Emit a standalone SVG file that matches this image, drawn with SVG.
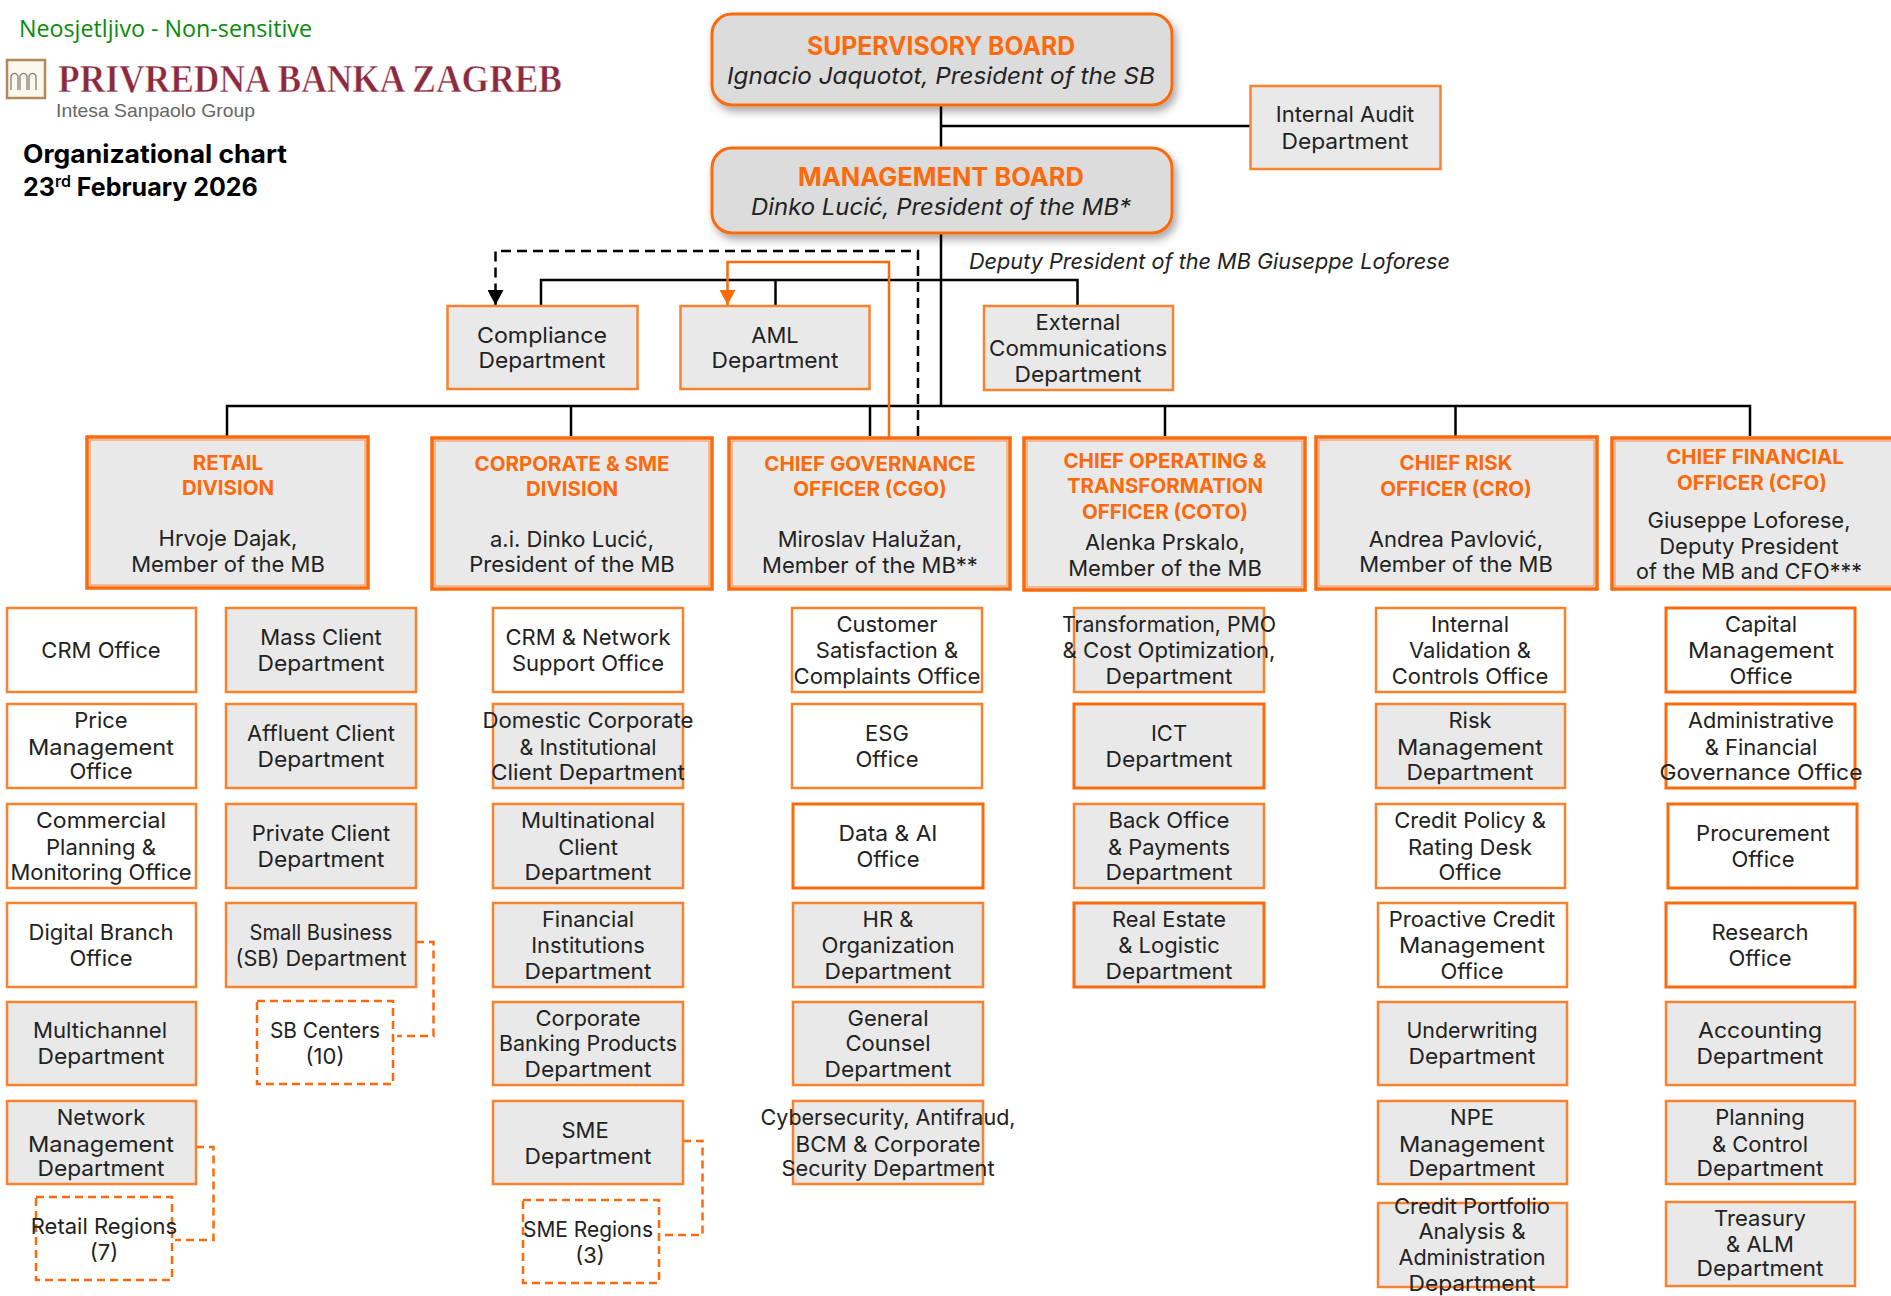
<svg xmlns="http://www.w3.org/2000/svg" width="1891" height="1296" viewBox="0 0 1891 1296">
<defs>
<style>
text{font-family:"Inter","Liberation Sans",sans-serif;font-size:22px;fill:#222;text-anchor:middle}
.box{stroke:#f9822f;stroke-width:2.5;fill:#e9e9e9}
.w{fill:#fff}
.s{stroke:#fb6a0c;stroke-width:3}
.t{fill:#fb6a0c;font-weight:700;font-size:20.5px}
.div{stroke:#fb6a0c;stroke-width:3.5;fill:#e9e9e9}
.inner{stroke:#fb8a45;stroke-width:1;fill:none}
.board{stroke:#fb6a0c;stroke-width:3;fill:#dcdcdc}
.dash{stroke:#fb6a0c;stroke-width:2.5;fill:none;stroke-dasharray:8 5}
.ln{stroke:#000;stroke-width:2.5;fill:none}
.bt{fill:#fb6a0c;font-weight:700;font-size:25px}
.it{font-style:italic;font-size:23px}
.l{text-anchor:start}
</style>
<filter id="sh" x="-5%" y="-10%" width="112%" height="130%"><feDropShadow dx="3" dy="5" stdDeviation="4" flood-color="#000" flood-opacity="0.35"/></filter>
<marker id="ab" markerUnits="userSpaceOnUse" markerWidth="16" markerHeight="16" refX="15" refY="8" orient="auto"><path d="M0 0L15 8L0 16Z" fill="#000"/></marker>
<marker id="ao" markerUnits="userSpaceOnUse" markerWidth="16" markerHeight="16" refX="15" refY="8" orient="auto"><path d="M0 0L15 8L0 16Z" fill="#fb6a0c"/></marker>
</defs>
<rect width="1891" height="1296" fill="#fff"/>
<g id="header">
<text class="l" x="19" y="37" textLength="293" lengthAdjust="spacingAndGlyphs" style="font-family:'Open Sans',sans-serif;font-size:24px;fill:#0a8a0a">Neosjetljivo - Non-sensitive</text>
<rect x="7" y="60" width="38" height="38" fill="#fdf8ec" stroke="#b08a5c" stroke-width="2.5"/>
<path d="M11 90V76a4 5 0 0 1 7 0V90M20 90V76a4 5 0 0 1 7 0V90M29 90V76a4 5 0 0 1 7 0V90" fill="none" stroke="#777" stroke-width="1.2"/>
<text class="l" x="58" y="92" textLength="504" lengthAdjust="spacingAndGlyphs" style="font-family:'Liberation Serif',serif;font-size:41px;font-weight:700;fill:#8c2a40;stroke:#fff;stroke-width:.6">PRIVREDNA BANKA ZAGREB</text>
<text class="l" x="56" y="117" textLength="199" lengthAdjust="spacingAndGlyphs" style="font-size:19px;fill:#666;font-family:'Liberation Sans',sans-serif">Intesa Sanpaolo Group</text>
<text class="l" x="23" y="163" textLength="264" lengthAdjust="spacingAndGlyphs" style="font-weight:700;font-size:25px;fill:#000">Organizational chart</text>
<text class="l" x="23" y="196" style="font-weight:700;font-size:25px;fill:#000">23<tspan dy="-9" style="font-size:16px;font-weight:600">rd</tspan><tspan dy="9"> February 2026</tspan></text>
</g>
<g id="connectors">
<path class="ln" d="M941 105V406M941 126H1250M541 306V280H1077.5V306M775.5 280V306M227 436V406H1750V436M571 406V436M870 406V436M1165 406V436M1455.5 406V436"/>
<path class="ln" stroke-dasharray="10 6" d="M918 436V251H495.5V305" marker-end="url(#ab)"/>
<path d="M889 438V262H727.5V305" fill="none" stroke="#fb6a0c" stroke-width="2.5" marker-end="url(#ao)"/>
<path class="dash" d="M416 942H433.5V1036H397M196 1147H213.5V1240H175M683 1141H702.5V1235H664"/>
</g>
<g id="supervisory-board"><rect class="board" x="712" y="14" width="460" height="91" rx="20" filter="url(#sh)"/><text class="bt" x="941" y="55" textLength="268" lengthAdjust="spacingAndGlyphs">SUPERVISORY BOARD</text><text class="it" x="941" y="84" textLength="428" lengthAdjust="spacingAndGlyphs">Ignacio Jaquotot, President of the SB</text></g>
<g id="management-board"><rect class="board" x="712" y="148" width="460" height="85" rx="20" filter="url(#sh)"/><text class="bt" x="941" y="186" textLength="286" lengthAdjust="spacingAndGlyphs">MANAGEMENT BOARD</text><text class="it" x="941" y="215" textLength="380" lengthAdjust="spacingAndGlyphs">Dinko Lucić, President of the MB*</text></g>
<g id="internal-audit"><rect class="box" x="1250.5" y="86" width="190" height="83"/><text x="1345" y="122">Internal Audit</text><text x="1345" y="149" textLength="127" lengthAdjust="spacingAndGlyphs">Department</text></g>
<g id="deputy-label"><text class="l it" x="969" y="269" textLength="481" lengthAdjust="spacingAndGlyphs" style="font-size:22px">Deputy President of the MB Giuseppe Loforese</text></g>
<g id="compliance"><rect class="box" x="447.5" y="306" width="190" height="83"/><text x="542" y="343" textLength="130" lengthAdjust="spacingAndGlyphs">Compliance</text><text x="542" y="368" textLength="127" lengthAdjust="spacingAndGlyphs">Department</text></g>
<g id="aml"><rect class="box" x="680.5" y="306" width="189" height="83"/><text x="775" y="343">AML</text><text x="775" y="368" textLength="127" lengthAdjust="spacingAndGlyphs">Department</text></g>
<g id="external-comm"><rect class="box" x="984" y="306" width="189" height="84"/><text x="1078" y="330">External</text><text x="1078" y="356" textLength="178" lengthAdjust="spacingAndGlyphs">Communications</text><text x="1078" y="382" textLength="127" lengthAdjust="spacingAndGlyphs">Department</text></g>

<g id="retail-division"><rect class="div" x="87" y="437" width="281" height="151"/><rect class="inner" x="90" y="440" width="275" height="145"/><text class="t" x="228" y="470">RETAIL</text><text class="t" x="228" y="495">DIVISION</text><text x="228" y="546">Hrvoje Dajak,</text><text x="228" y="572">Member of the MB</text></g>
<g id="corporate-division"><rect class="div" x="432" y="438" width="280" height="151"/><rect class="inner" x="435" y="441" width="274" height="145"/><text class="t" x="572" y="471">CORPORATE &amp; SME</text><text class="t" x="572" y="496">DIVISION</text><text x="572" y="547">a.i. Dinko Lucić,</text><text x="572" y="572">President of the MB</text></g>
<g id="cgo"><rect class="div" x="729" y="438" width="281" height="151"/><rect class="inner" x="732" y="441" width="275" height="145"/><text class="t" x="870" y="471">CHIEF GOVERNANCE</text><text class="t" x="870" y="496">OFFICER (CGO)</text><text x="870" y="547">Miroslav Halužan,</text><text x="870" y="573">Member of the MB**</text></g>
<g id="coto"><rect class="div" x="1024" y="438" width="281" height="152"/><rect class="inner" x="1027" y="441" width="275" height="146"/><text class="t" x="1165" y="468">CHIEF OPERATING &amp;</text><text class="t" x="1165" y="493">TRANSFORMATION</text><text class="t" x="1165" y="519">OFFICER (COTO)</text><text x="1165" y="550">Alenka Prskalo,</text><text x="1165" y="576">Member of the MB</text></g>
<g id="cro"><rect class="div" x="1316" y="437" width="281" height="152"/><rect class="inner" x="1319" y="440" width="275" height="146"/><text class="t" x="1456" y="470">CHIEF RISK</text><text class="t" x="1456" y="496">OFFICER (CRO)</text><text x="1456" y="547">Andrea Pavlović,</text><text x="1456" y="572">Member of the MB</text></g>
<g id="cfo"><rect class="div" x="1612" y="438" width="285" height="151"/><rect class="inner" x="1615" y="441" width="280" height="145"/><text class="t" x="1755" y="464">CHIEF FINANCIAL</text><text class="t" x="1752" y="490">OFFICER (CFO)</text><text x="1749" y="528">Giuseppe Loforese,</text><text x="1749" y="554">Deputy President</text><text x="1749" y="579" textLength="226" lengthAdjust="spacingAndGlyphs">of the MB and CFO***</text></g>

<g id="crm-office"><rect class="box w" x="7" y="608" width="189" height="84"/><text x="101" y="658">CRM Office</text></g>
<g id="price-mgmt"><rect class="box w" x="7" y="704" width="189" height="84"/><text x="101" y="728">Price</text><text x="101" y="755" textLength="146" lengthAdjust="spacingAndGlyphs">Management</text><text x="101" y="779">Office</text></g>
<g id="commercial"><rect class="box w" x="7" y="804" width="189" height="84"/><text x="101" y="828" textLength="130" lengthAdjust="spacingAndGlyphs">Commercial</text><text x="101" y="855">Planning &amp;</text><text x="101" y="880">Monitoring Office</text></g>
<g id="digital-branch"><rect class="box w" x="7" y="903" width="189" height="84"/><text x="101" y="940">Digital Branch</text><text x="101" y="966">Office</text></g>
<g id="multichannel"><rect class="box" x="7" y="1002" width="189" height="83"/><text x="100" y="1038" textLength="134" lengthAdjust="spacingAndGlyphs">Multichannel</text><text x="101" y="1064" textLength="127" lengthAdjust="spacingAndGlyphs">Department</text></g>
<g id="network-mgmt"><rect class="box" x="7" y="1101" width="189" height="83"/><text x="101" y="1125">Network</text><text x="101" y="1152" textLength="146" lengthAdjust="spacingAndGlyphs">Management</text><text x="101" y="1176" textLength="127" lengthAdjust="spacingAndGlyphs">Department</text></g>
<g id="retail-regions"><rect class="dash" x="36" y="1197" width="136" height="83"/><text x="104" y="1234">Retail Regions</text><text x="104" y="1260">(7)</text></g>

<g id="mass-client"><rect class="box" x="226" y="608" width="190" height="84"/><text x="321" y="645">Mass Client</text><text x="321" y="671" textLength="127" lengthAdjust="spacingAndGlyphs">Department</text></g>
<g id="affluent"><rect class="box" x="226" y="704" width="190" height="84"/><text x="321" y="741">Affluent Client</text><text x="321" y="767" textLength="127" lengthAdjust="spacingAndGlyphs">Department</text></g>
<g id="private-client"><rect class="box" x="226" y="804" width="190" height="84"/><text x="321" y="841">Private Client</text><text x="321" y="867" textLength="127" lengthAdjust="spacingAndGlyphs">Department</text></g>
<g id="small-business"><rect class="box" x="226" y="903" width="190" height="84"/><text x="321" y="940" textLength="143" lengthAdjust="spacingAndGlyphs">Small Business</text><text x="321" y="966" textLength="171" lengthAdjust="spacingAndGlyphs">(SB) Department</text></g>
<g id="sb-centers"><rect class="dash" x="257" y="1001" width="136" height="83"/><text x="325" y="1038" textLength="110" lengthAdjust="spacingAndGlyphs">SB Centers</text><text x="325" y="1064">(10)</text></g>

<g id="crm-network"><rect class="box w" x="493" y="608" width="190" height="84"/><text x="588" y="645">CRM &amp; Network</text><text x="588" y="671">Support Office</text></g>
<g id="domestic-corporate"><rect class="box" x="493" y="704" width="190" height="84"/><text x="588" y="728" textLength="211" lengthAdjust="spacingAndGlyphs">Domestic Corporate</text><text x="588" y="755" textLength="137" lengthAdjust="spacingAndGlyphs">&amp; Institutional</text><text x="588" y="780" textLength="194" lengthAdjust="spacingAndGlyphs">Client Department</text></g>
<g id="multinational"><rect class="box" x="493" y="804" width="190" height="84"/><text x="588" y="828" textLength="134" lengthAdjust="spacingAndGlyphs">Multinational</text><text x="588" y="855">Client</text><text x="588" y="880" textLength="127" lengthAdjust="spacingAndGlyphs">Department</text></g>
<g id="financial-institutions"><rect class="box" x="493" y="903" width="190" height="84"/><text x="588" y="927">Financial</text><text x="588" y="953">Institutions</text><text x="588" y="979" textLength="127" lengthAdjust="spacingAndGlyphs">Department</text></g>
<g id="corporate-banking"><rect class="box" x="493" y="1002" width="190" height="83"/><text x="588" y="1026">Corporate</text><text x="588" y="1051" textLength="178" lengthAdjust="spacingAndGlyphs">Banking Products</text><text x="588" y="1077" textLength="127" lengthAdjust="spacingAndGlyphs">Department</text></g>
<g id="sme-dept"><rect class="box" x="493" y="1101" width="190" height="83"/><text x="585" y="1138">SME</text><text x="588" y="1164" textLength="127" lengthAdjust="spacingAndGlyphs">Department</text></g>
<g id="sme-regions"><rect class="dash" x="523" y="1200" width="136" height="83"/><text x="588" y="1237" textLength="130" lengthAdjust="spacingAndGlyphs">SME Regions</text><text x="590" y="1263">(3)</text></g>

<g id="customer-satisfaction"><rect class="box w" x="792" y="608" width="190" height="84"/><text x="887" y="632">Customer</text><text x="887" y="658">Satisfaction &amp;</text><text x="887" y="684" textLength="187" lengthAdjust="spacingAndGlyphs">Complaints Office</text></g>
<g id="esg"><rect class="box w" x="792" y="704" width="190" height="84"/><text x="887" y="741">ESG</text><text x="887" y="767">Office</text></g>
<g id="data-ai"><rect class="box w s" x="793" y="804" width="190" height="84"/><text x="888" y="841" textLength="99" lengthAdjust="spacingAndGlyphs">Data &amp; AI</text><text x="888" y="867">Office</text></g>
<g id="hr"><rect class="box" x="793" y="903" width="190" height="84"/><text x="888" y="927">HR &amp;</text><text x="888" y="953" textLength="133" lengthAdjust="spacingAndGlyphs">Organization</text><text x="888" y="979" textLength="127" lengthAdjust="spacingAndGlyphs">Department</text></g>
<g id="general-counsel"><rect class="box" x="793" y="1002" width="190" height="83"/><text x="888" y="1026">General</text><text x="888" y="1051">Counsel</text><text x="888" y="1077" textLength="127" lengthAdjust="spacingAndGlyphs">Department</text></g>
<g id="cybersecurity"><rect class="box" x="793" y="1101" width="190" height="83"/><text x="888" y="1125" textLength="255" lengthAdjust="spacingAndGlyphs">Cybersecurity, Antifraud,</text><text x="888" y="1152" textLength="185" lengthAdjust="spacingAndGlyphs">BCM &amp; Corporate</text><text x="888" y="1176" textLength="213" lengthAdjust="spacingAndGlyphs">Security Department</text></g>

<g id="transformation"><rect class="box" x="1074" y="608" width="190" height="84"/><text x="1169" y="632" textLength="214" lengthAdjust="spacingAndGlyphs">Transformation, PMO</text><text x="1169" y="658" textLength="213" lengthAdjust="spacingAndGlyphs">&amp; Cost Optimization,</text><text x="1169" y="684" textLength="127" lengthAdjust="spacingAndGlyphs">Department</text></g>
<g id="ict"><rect class="box s" x="1074" y="704" width="190" height="84"/><text x="1169" y="741">ICT</text><text x="1169" y="767" textLength="127" lengthAdjust="spacingAndGlyphs">Department</text></g>
<g id="back-office"><rect class="box" x="1074" y="804" width="190" height="84"/><text x="1169" y="828" textLength="121" lengthAdjust="spacingAndGlyphs">Back Office</text><text x="1169" y="855" textLength="122" lengthAdjust="spacingAndGlyphs">&amp; Payments</text><text x="1169" y="880" textLength="127" lengthAdjust="spacingAndGlyphs">Department</text></g>
<g id="real-estate"><rect class="box s" x="1074" y="903" width="190" height="84"/><text x="1169" y="927" textLength="114" lengthAdjust="spacingAndGlyphs">Real Estate</text><text x="1169" y="953">&amp; Logistic</text><text x="1169" y="979" textLength="127" lengthAdjust="spacingAndGlyphs">Department</text></g>

<g id="internal-validation"><rect class="box w" x="1376" y="608" width="189" height="84"/><text x="1470" y="632">Internal</text><text x="1470" y="658">Validation &amp;</text><text x="1470" y="684">Controls Office</text></g>
<g id="risk-mgmt"><rect class="box" x="1376" y="704" width="189" height="84"/><text x="1470" y="728">Risk</text><text x="1470" y="755" textLength="146" lengthAdjust="spacingAndGlyphs">Management</text><text x="1470" y="780" textLength="127" lengthAdjust="spacingAndGlyphs">Department</text></g>
<g id="credit-policy"><rect class="box w" x="1376" y="804" width="189" height="84"/><text x="1470" y="828">Credit Policy &amp;</text><text x="1470" y="855">Rating Desk</text><text x="1470" y="880">Office</text></g>
<g id="proactive-credit"><rect class="box w" x="1378" y="903" width="189" height="84"/><text x="1472" y="927">Proactive Credit</text><text x="1472" y="953" textLength="146" lengthAdjust="spacingAndGlyphs">Management</text><text x="1472" y="979">Office</text></g>
<g id="underwriting"><rect class="box" x="1378" y="1002" width="189" height="83"/><text x="1472" y="1038" textLength="131" lengthAdjust="spacingAndGlyphs">Underwriting</text><text x="1472" y="1064" textLength="127" lengthAdjust="spacingAndGlyphs">Department</text></g>
<g id="npe"><rect class="box" x="1378" y="1101" width="189" height="83"/><text x="1472" y="1125">NPE</text><text x="1472" y="1152" textLength="146" lengthAdjust="spacingAndGlyphs">Management</text><text x="1472" y="1176" textLength="127" lengthAdjust="spacingAndGlyphs">Department</text></g>
<g id="credit-portfolio"><rect class="box" x="1378" y="1203" width="189" height="84"/><text x="1472" y="1214">Credit Portfolio</text><text x="1472" y="1239">Analysis &amp;</text><text x="1472" y="1265" textLength="147" lengthAdjust="spacingAndGlyphs">Administration</text><text x="1472" y="1291" textLength="127" lengthAdjust="spacingAndGlyphs">Department</text></g>

<g id="capital"><rect class="box w s" x="1666" y="608" width="189" height="84"/><text x="1761" y="632">Capital</text><text x="1761" y="658" textLength="146" lengthAdjust="spacingAndGlyphs">Management</text><text x="1761" y="684">Office</text></g>
<g id="administrative"><rect class="box w s" x="1666" y="704" width="189" height="84"/><text x="1761" y="728" textLength="146" lengthAdjust="spacingAndGlyphs">Administrative</text><text x="1761" y="755">&amp; Financial</text><text x="1761" y="780" textLength="203" lengthAdjust="spacingAndGlyphs">Governance Office</text></g>
<g id="procurement"><rect class="box w s" x="1668" y="804" width="189" height="84"/><text x="1763" y="841">Procurement</text><text x="1763" y="867">Office</text></g>
<g id="research"><rect class="box w s" x="1666" y="903" width="189" height="84"/><text x="1760" y="940">Research</text><text x="1760" y="966">Office</text></g>
<g id="accounting"><rect class="box" x="1666" y="1002" width="189" height="83"/><text x="1760" y="1038" textLength="124" lengthAdjust="spacingAndGlyphs">Accounting</text><text x="1760" y="1064" textLength="127" lengthAdjust="spacingAndGlyphs">Department</text></g>
<g id="planning"><rect class="box" x="1666" y="1101" width="189" height="83"/><text x="1760" y="1125">Planning</text><text x="1760" y="1152">&amp; Control</text><text x="1760" y="1176" textLength="127" lengthAdjust="spacingAndGlyphs">Department</text></g>
<g id="treasury"><rect class="box" x="1666" y="1202" width="189" height="84"/><text x="1760" y="1226">Treasury</text><text x="1760" y="1252">&amp; ALM</text><text x="1760" y="1276" textLength="127" lengthAdjust="spacingAndGlyphs">Department</text></g>
</svg>
